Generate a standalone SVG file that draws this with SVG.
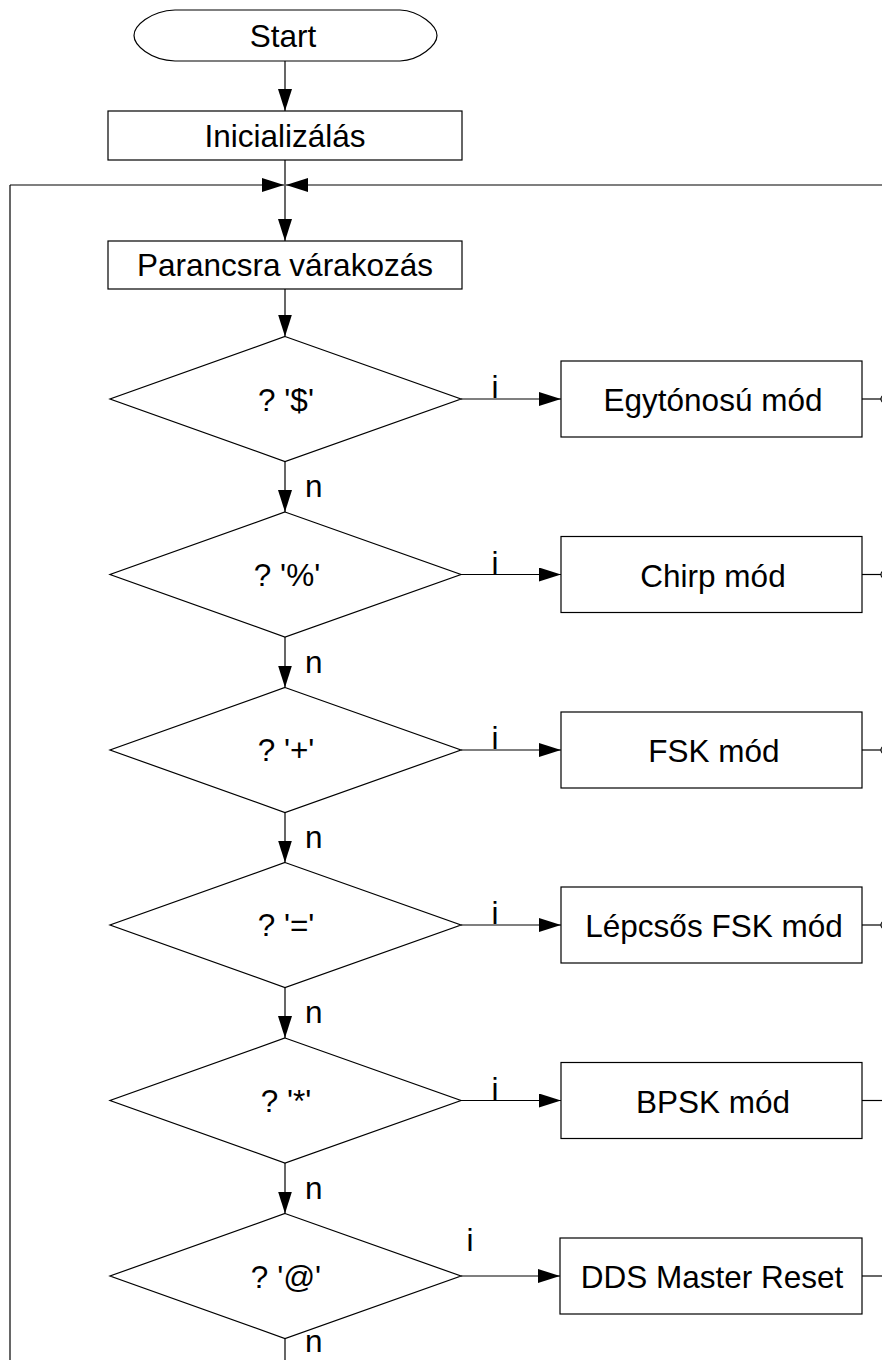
<svg xmlns="http://www.w3.org/2000/svg" width="882" height="1360" viewBox="0 0 882 1360">
<style>
.shape{fill:#fff;stroke:#000;stroke-width:1.2}
.ln{fill:none;stroke:#000;stroke-width:1.2}
.t{font-family:"Liberation Sans",Arial,sans-serif;font-size:31.5px;fill:#000}
.c{text-anchor:middle}
</style>
<defs>
<marker id="arr" markerWidth="22" markerHeight="14" refX="22" refY="7" orient="auto" markerUnits="userSpaceOnUse">
<path d="M0,0 L22,7 L0,14 Z" fill="#000"/>
</marker>
</defs>
<rect width="882" height="1360" fill="#fff"/>

<g id="connectors">
<line class="ln" x1="285" y1="61" x2="285" y2="111" marker-end="url(#arr)"/>
<line class="ln" x1="285" y1="160" x2="285" y2="241" marker-end="url(#arr)"/>
<line class="ln" x1="10" y1="1360" x2="10" y2="185"/>
<line class="ln" x1="10" y1="185" x2="284" y2="185" marker-end="url(#arr)"/>
<line class="ln" x1="882" y1="185" x2="286" y2="185" marker-end="url(#arr)"/>
<line class="ln" x1="285" y1="289" x2="285" y2="336.5" marker-end="url(#arr)"/>
<line class="ln" x1="285" y1="461.5" x2="285" y2="512" marker-end="url(#arr)"/>
<line class="ln" x1="285" y1="637" x2="285" y2="687.5" marker-end="url(#arr)"/>
<line class="ln" x1="285" y1="812.5" x2="285" y2="862.5" marker-end="url(#arr)"/>
<line class="ln" x1="285" y1="987.5" x2="285" y2="1038" marker-end="url(#arr)"/>
<line class="ln" x1="285" y1="1163" x2="285" y2="1213.5" marker-end="url(#arr)"/>
<line class="ln" x1="285" y1="1338.5" x2="285" y2="1360"/>
<line class="ln" x1="461" y1="399" x2="561" y2="399" marker-end="url(#arr)"/>
<line class="ln" x1="461" y1="574.5" x2="561" y2="574.5" marker-end="url(#arr)"/>
<line class="ln" x1="461" y1="750" x2="561" y2="750" marker-end="url(#arr)"/>
<line class="ln" x1="461" y1="925" x2="561" y2="925" marker-end="url(#arr)"/>
<line class="ln" x1="461" y1="1100.5" x2="561" y2="1100.5" marker-end="url(#arr)"/>
<line class="ln" x1="461" y1="1276" x2="560" y2="1276" marker-end="url(#arr)"/>
<line class="ln" x1="862" y1="399" x2="881" y2="399"/>
<line class="ln" x1="862" y1="574.5" x2="881" y2="574.5"/>
<line class="ln" x1="862" y1="750" x2="881" y2="750"/>
<line class="ln" x1="862" y1="925" x2="881" y2="925"/>
<line class="ln" x1="862" y1="1100.5" x2="882" y2="1100.5"/>
<line class="ln" x1="862" y1="1276" x2="882" y2="1276"/>
<circle class="ln" cx="885" cy="399" r="4"/>
<circle class="ln" cx="885" cy="574.5" r="4"/>
<circle class="ln" cx="885" cy="750" r="4"/>
<circle class="ln" cx="885" cy="925" r="4"/>
<text class="t c" x="495" y="398">i</text>
<text class="t c" x="495" y="573.5">i</text>
<text class="t c" x="495" y="749">i</text>
<text class="t c" x="495" y="924">i</text>
<text class="t c" x="495" y="1099.5">i</text>
<text class="t c" x="470" y="1251">i</text>
<text class="t" x="305" y="497">n</text>
<text class="t" x="305" y="673">n</text>
<text class="t" x="305" y="848">n</text>
<text class="t" x="305" y="1023">n</text>
<text class="t" x="305" y="1198.5">n</text>
<text class="t" x="305" y="1352">n</text>
</g>

<g id="start">
<path class="shape" d="M175,10 H400 C420,11 437,26 437,35.5 C437,45 420,60 400,61 H175 C150,60 134,45 134,35.5 C134,26 150,11 175,10 Z"/>
<text class="t c" x="283" y="47">Start</text>
</g>
<g id="init">
<rect class="shape" x="108" y="111" width="354" height="49"/>
<text class="t c" x="285" y="147">Inicializálás</text>
</g>
<g id="wait">
<rect class="shape" x="108" y="241" width="354" height="48"/>
<text class="t c" x="285" y="276">Parancsra várakozás</text>
</g>

<g id="d1">
<polygon class="shape" points="285,336.5 461,399 285,461.5 110,399"/>
<text class="t c" x="286" y="411">? '$'</text>
</g>
<g id="d2">
<polygon class="shape" points="285,512 461,574.5 285,637 110,574.5"/>
<text class="t c" x="287" y="586">? '%'</text>
</g>
<g id="d3">
<polygon class="shape" points="285,687.5 461,750 285,812.5 110,750"/>
<text class="t c" x="286" y="761">? '+'</text>
</g>
<g id="d4">
<polygon class="shape" points="285,862.5 461,925 285,987.5 110,925"/>
<text class="t c" x="286" y="936">? '='</text>
</g>
<g id="d5">
<polygon class="shape" points="285,1038 461,1100.5 285,1163 110,1100.5"/>
<text class="t c" x="286" y="1112">? '*'</text>
</g>
<g id="d6">
<polygon class="shape" points="285,1213.5 461,1276 285,1338.5 110,1276"/>
<text class="t c" x="286" y="1288">? '@'</text>
</g>

<g id="b1">
<rect class="shape" x="561" y="361" width="301" height="76"/>
<text class="t c" x="713" y="411">Egytónosú mód</text>
</g>
<g id="b2">
<rect class="shape" x="561" y="536.5" width="301" height="76"/>
<text class="t c" x="713" y="586.5">Chirp mód</text>
</g>
<g id="b3">
<rect class="shape" x="561" y="712" width="301" height="76"/>
<text class="t c" x="714" y="762">FSK mód</text>
</g>
<g id="b4">
<rect class="shape" x="561" y="887" width="301" height="76"/>
<text class="t c" x="714" y="937">Lépcsős FSK mód</text>
</g>
<g id="b5">
<rect class="shape" x="561" y="1062.5" width="301" height="76"/>
<text class="t c" x="713" y="1112.5">BPSK mód</text>
</g>
<g id="b6">
<rect class="shape" x="560" y="1238" width="302" height="76"/>
<text class="t c" x="712" y="1288">DDS Master Reset</text>
</g>
</svg>
